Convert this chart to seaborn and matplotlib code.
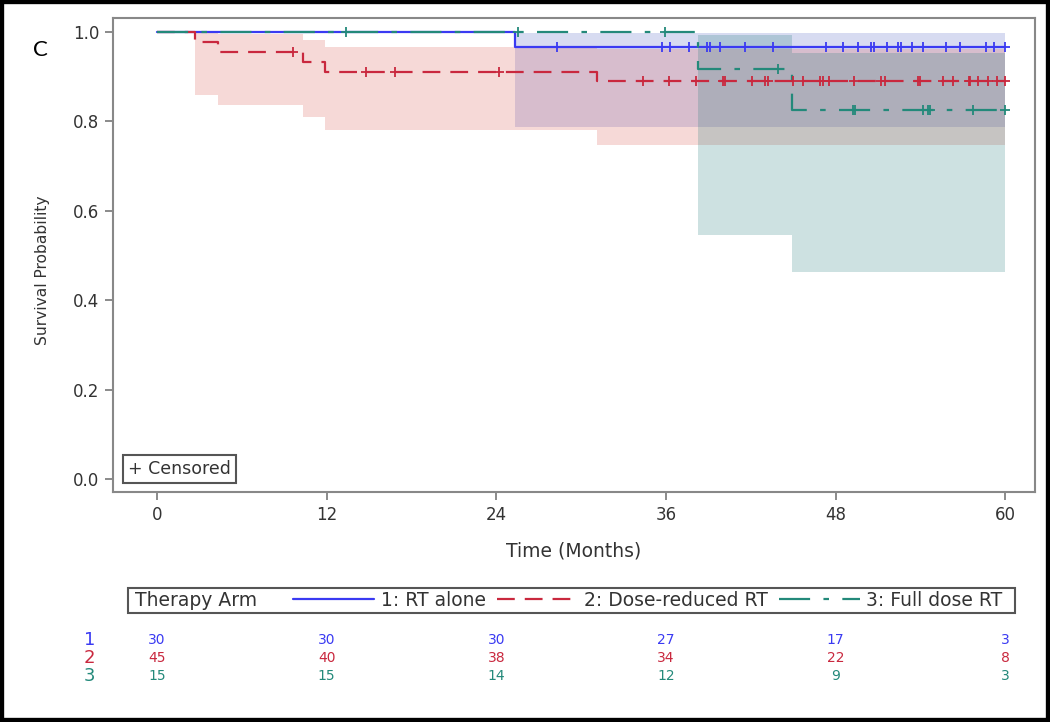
import numpy as np
import pandas as pd
import matplotlib
matplotlib.use("Agg")
import matplotlib.pyplot as plt
import matplotlib.transforms as mtransforms
from matplotlib.patches import Rectangle
import seaborn as sns

sns.set_theme(style="white")
plt.rcParams['font.family'] = ['DejaVu Sans']

# --- Data (Kaplan-Meier steps, CI bands, censor times) ---
arm_labels = ['1: RT alone', '2: Dose-reduced RT', '3: Full dose RT']

# Arm 1: RT alone
t1 = [0, 25.3, 60]
s1 = [1.0, 0.967, 0.967]
lo1 = [1.0, 0.787, 0.787]
hi1 = [1.0, 0.998, 0.998]
cens1 = [28.3, 35.7, 36.3, 37.6, 38.9, 39.1, 39.8, 41.6, 43.6, 47.3, 48.5, 49.6,
         50.5, 50.7, 51.6, 52.4, 52.6, 53.4, 54.2, 55.8, 56.8, 58.6, 59.2, 60.0]

# Arm 2: Dose-reduced RT
t2 = [0, 2.7, 4.3, 10.3, 11.9, 31.1, 60]
s2 = [1.0, 0.978, 0.956, 0.933, 0.910, 0.889, 0.889]
lo2 = [1.0, 0.859, 0.837, 0.810, 0.781, 0.747, 0.747]
hi2 = [1.0, 0.997, 0.995, 0.982, 0.966, 0.962, 0.962]
cens2 = [9.6, 14.8, 16.8, 24.2, 34.4, 36.2, 38.1, 40.0, 40.2, 42.1, 43.0, 43.2,
         45.0, 45.7, 46.9, 47.1, 47.5, 49.3, 51.2, 51.5, 53.8, 54.0, 55.6, 56.3,
         57.4, 57.5, 58.1, 58.8, 59.4, 60.0]

# Arm 3: Full dose RT
t3 = [0, 38.3, 44.9, 60]
s3 = [1.0, 0.917, 0.825, 0.825]
lo3 = [1.0, 0.546, 0.463, 0.463]
hi3 = [1.0, 0.993, 0.953, 0.953]
cens3 = [13.4, 25.5, 35.9, 43.9, 49.2, 49.4, 54.2, 54.5, 54.7, 57.7, 60.0]

# Number at risk
risk_times = [0, 12, 24, 36, 48, 60]
risk1 = [30, 30, 30, 27, 17, 3]
risk2 = [45, 40, 38, 34, 22, 8]
risk3 = [15, 15, 14, 12, 9, 3]

# --- Styles ---
line_colors = ['#3a3af2', '#c9283e', '#23897a']
band_colors = ['#4a5cc0', '#d9544d', '#1f7a7a']
line_styles = ['-', (0, (8, 4.5)), (0, (14, 6, 2.5, 6))]

arms = [
    (t1, s1, lo1, hi1, cens1, risk1),
    (t2, s2, lo2, hi2, cens2, risk2),
    (t3, s3, lo3, hi3, cens3, risk3),
]

fig = plt.figure(figsize=(10.5, 7.22), dpi=100)
ax = fig.add_axes([113 / 1050, 1 - 492 / 722, 922 / 1050, 474 / 722])

# confidence bands
for (t, s, lo, hi, cens, risk), bc in zip(arms, band_colors):
    ax.fill_between(t, lo, hi, step='post', color=bc, alpha=0.22, linewidth=0)

# survival curves + censor marks
handles = []
for (t, s, lo, hi, cens, risk), lc, ls, lab in zip(arms, line_colors, line_styles, arm_labels):
    df = pd.DataFrame({'Time': t, 'Survival': s})
    sns.lineplot(data=df, x='Time', y='Survival', ax=ax, color=lc, linewidth=1.6,
                 drawstyle='steps-post', estimator=None, sort=False, linestyle=ls)
    handles.append(ax.lines[-1])
    # survival value at each censor time from the step function
    idx = np.searchsorted(t, cens, side='right') - 1
    cdf = pd.DataFrame({'Time': cens, 'Survival': np.array(s)[idx]})
    sns.scatterplot(data=cdf, x='Time', y='Survival', ax=ax, marker='+', s=45,
                    color=lc, linewidth=1.3, zorder=3)

ax.set_xlim(-3.11, 62.1)
ax.set_ylim(-0.029, 1.031)
ax.set_xticks(risk_times)
ax.set_yticks(np.arange(0, 1.01, 0.2))
ax.set_yticklabels([f'{v:.1f}' for v in np.arange(0, 1.01, 0.2)])
ax.tick_params(axis='both', which='both', direction='out', length=6, width=1.2,
               color='#777777', labelsize=12, labelcolor='#333333', pad=4,
               bottom=True, left=True)
for sp in ax.spines.values():
    sp.set_color('#888888')
    sp.set_linewidth(1.5)
ax.set_xlabel('Time (Months)', fontsize=13.5, color='#333333', labelpad=13)
ax.set_ylabel('Survival Probability', fontsize=11.2, color='#333333')
ax.yaxis.set_label_coords(-0.068, 0.468)

# censored note box
ax.text(0.016, 0.049, '+ Censored', transform=ax.transAxes, fontsize=12.5,
        color='#333333', va='center', ha='left',
        bbox=dict(boxstyle='square,pad=0.3', fc='white', ec='#555555', lw=1.5))

# panel letter
fig.text(40 / 1050, 1 - 50 / 722, 'C', fontsize=16, family=['Lato', 'DejaVu Sans'],
         color='black', ha='center', va='center')

# legend row
fig.patches.append(Rectangle((128 / 1050, 1 - 613 / 722), 887 / 1050, 25 / 722,
                             transform=fig.transFigure, fill=False,
                             edgecolor='#555555', linewidth=1.5))
fig.text(135 / 1050, 1 - 600 / 722, 'Therapy Arm', fontsize=13.5, color='#333333',
         ha='left', va='center')
fig.legend(handles=handles, labels=arm_labels, loc='center right',
           bbox_to_anchor=(1012 / 1050, 1 - 600 / 722), ncol=3, frameon=False,
           fontsize=13.5, handlelength=4.3, handletextpad=0.35, columnspacing=0.6,
           borderpad=0, labelcolor='#333333')

# number-at-risk table
trans = mtransforms.blended_transform_factory(ax.transData, fig.transFigure)
row_y = [1 - 640 / 722, 1 - 658 / 722, 1 - 676 / 722]
for (t, s, lo, hi, cens, risk), lc, y, num in zip(arms, line_colors, row_y, ['1', '2', '3']):
    ax.text(-4.75, y, num, transform=trans, color=lc, fontsize=13,
            ha='center', va='center', clip_on=False)
    for rt, n in zip(risk_times, risk):
        ax.text(rt, y, str(n), transform=trans, color=lc, fontsize=10,
                ha='center', va='center', clip_on=False)

# outer black frame of the image
fig.patches.append(Rectangle((0, 0), 1, 1, transform=fig.transFigure, fill=False,
                             edgecolor='black', linewidth=6))

fig.savefig('out.png', dpi=100)
